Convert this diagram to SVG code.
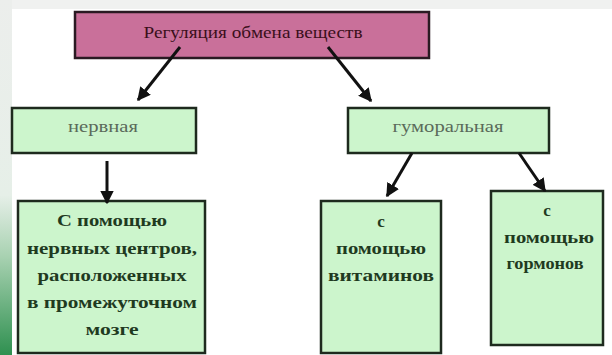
<svg xmlns="http://www.w3.org/2000/svg" width="612" height="355" viewBox="0 0 612 355">
<defs>
<linearGradient id="strip" x1="0" y1="0" x2="0" y2="1">
<stop offset="0" stop-color="#eceeec"/>
<stop offset="0.55" stop-color="#e6efe8"/>
<stop offset="0.72" stop-color="#a9d2b2"/>
<stop offset="1" stop-color="#2f9050"/>
</linearGradient>
<marker id="ah" viewBox="0 0 10 10" refX="9" refY="5" markerWidth="4.5" markerHeight="4.5" orient="auto" markerUnits="strokeWidth">
<path d="M0,0 L10,5 L0,10 z" fill="#111"/>
</marker>
<style>
.box{fill:#ccf5cc;stroke:#1e2a1e;stroke-width:2.5}
.top{fill:#c9709a;stroke:#2a1a22;stroke-width:2.5}
.t{font-family:"Liberation Serif","DejaVu Serif",serif;text-anchor:middle}
.b{font-size:17px;font-weight:bold;fill:#1f3a1f}
.n{font-size:16px;fill:#5a6a5a}
.c{stroke:#111;stroke-width:3;fill:none;marker-end:url(#ah)}
</style>
</defs>
<rect width="612" height="355" fill="#ffffff"/>
<rect x="0" y="0" width="612" height="9" fill="#f0f1f0"/>
<rect x="0" y="0" width="12" height="355" fill="url(#strip)"/>
<g id="n-top">
<rect class="top" x="75" y="12" width="354" height="46"/>
<text class="t" x="253" y="38" font-size="17" fill="#3a0f1a" textLength="219" lengthAdjust="spacingAndGlyphs">Регуляция обмена веществ</text>
</g>
<g id="n-nerv">
<rect class="box" x="12" y="108" width="184" height="45"/>
<text class="t n" x="103" y="132" textLength="70" lengthAdjust="spacingAndGlyphs">нервная</text>
</g>
<g id="n-hum">
<rect class="box" x="348" y="108" width="201" height="45"/>
<text class="t n" x="448" y="132" textLength="111" lengthAdjust="spacingAndGlyphs">гуморальная</text>
</g>
<g id="n-nc">
<rect class="box" x="18" y="201" width="187" height="152"/>
<text class="t b" x="112" y="226" textLength="110" lengthAdjust="spacingAndGlyphs">С помощью</text>
<text class="t b" x="112" y="254" textLength="170" lengthAdjust="spacingAndGlyphs">нервных центров,</text>
<text class="t b" x="112" y="281" textLength="149" lengthAdjust="spacingAndGlyphs">расположенных</text>
<text class="t b" x="112" y="308" textLength="170" lengthAdjust="spacingAndGlyphs">в промежуточном</text>
<text class="t b" x="112" y="335" textLength="53" lengthAdjust="spacingAndGlyphs">мозге</text>
</g>
<g id="n-vit">
<rect class="box" x="321" y="201" width="120" height="152"/>
<text class="t b" x="381" y="227">с</text>
<text class="t b" x="381" y="254" textLength="90" lengthAdjust="spacingAndGlyphs">помощью</text>
<text class="t b" x="381" y="281" textLength="106" lengthAdjust="spacingAndGlyphs">витаминов</text>
</g>
<g id="n-horm">
<rect class="box" x="491" y="191" width="112" height="154"/>
<text class="t b" x="547" y="216">с</text>
<text class="t b" x="549" y="243" textLength="90" lengthAdjust="spacingAndGlyphs">помощью</text>
<text class="t b" x="545" y="269" textLength="77" lengthAdjust="spacingAndGlyphs">гормонов</text>
</g>
<g id="connectors">
<line class="c" x1="180" y1="47" x2="138" y2="100"/>
<line class="c" x1="328" y1="47" x2="371" y2="101"/>
<line class="c" x1="107" y1="161" x2="107" y2="203"/>
<line class="c" x1="412" y1="153" x2="387" y2="196"/>
<line class="c" x1="519" y1="153" x2="545" y2="191"/>
</g>
</svg>
